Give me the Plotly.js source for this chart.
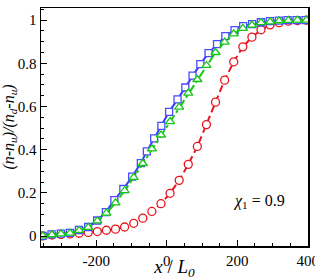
<!DOCTYPE html>
<html>
<head>
<meta charset="utf-8">
<script src="https://cdn.plot.ly/plotly-3.0.1.min.js"></script>
<style>html,body{margin:0;padding:0;background:#fff;}#chart{width:315px;height:280px;}</style>
</head>
<body>
<div id="chart"></div>
<script>
// shared x grid (x / L0) for green and red series
const xGrid = [-352, -326.2, -300.4, -274.6, -248.8, -223, -197.2, -171.4, -145.6, -119.8,
  -94, -68.2, -42.4, -16.6, 9.2, 35, 60.8, 86.6, 112.4, 138.2,
  164, 189.8, 215.6, 241.4, 267.2, 293, 318.8, 344.6, 370.4, 396.2];
// blue squares series
const xBlue = [-352.6, -327.1, -300.7, -275.2, -249.6, -223.3, -197.7, -173.0, -148.9, -123.4,
  -98.4, -73.8, -56.7, -36.0, -15.6, 6.5, 30.4, 52.5, 72.9, 95.0,
  118.3, 142.4, 166.0, 192.1, 216.5, 242.0, 266.7, 292.2, 317.7, 342.4, 368.0, 393.5];
const yBlue = [0.001, 0.008, 0.011, 0.015, 0.028, 0.042, 0.072, 0.111, 0.166, 0.218,
  0.275, 0.338, 0.392, 0.452, 0.510, 0.575, 0.633, 0.688, 0.743, 0.796,
  0.847, 0.889, 0.926, 0.954, 0.972, 0.981, 0.990, 0.995, 0.998, 1.0, 1.0, 1.0];
// green triangles series
const yGreen = [0.001, 0.006, 0.010, 0.014, 0.026, 0.040, 0.070, 0.106, 0.154, 0.210,
  0.272, 0.336, 0.404, 0.468, 0.530, 0.597, 0.662, 0.725, 0.790, 0.850,
  0.898, 0.936, 0.962, 0.977, 0.988, 0.992, 0.997, 0.999, 1.0, 1.0];
// red circles series
const yRed = [0.001, 0.005, 0.008, 0.010, 0.013, 0.017, 0.021, 0.027, 0.032, 0.042,
  0.059, 0.083, 0.114, 0.150, 0.198, 0.258, 0.332, 0.415, 0.516, 0.620,
  0.722, 0.807, 0.876, 0.921, 0.955, 0.978, 0.988, 0.995, 0.998, 1.0];

const serif = "Liberation Serif";

const traces = [
  {x: xGrid, y: yRed, type: 'scatter', mode: 'lines+markers',
   line: {color: '#e8141c', width: 2, dash: '7px,4px'},
   marker: {symbol: 'circle', size: 8, color: '#ffffff', line: {width: 1.3, color: '#e8141c'}}},
  {x: xBlue, y: yBlue, type: 'scatter', mode: 'lines+markers',
   line: {color: '#3a3aff', width: 2},
   marker: {symbol: 'square', size: 7, color: '#ffffff', line: {width: 1.3, color: '#4a4aff'}}},
  {x: xGrid, y: yGreen, type: 'scatter', mode: 'lines+markers',
   line: {color: '#14c814', width: 2, dash: 'dashdot'},
   marker: {symbol: 'triangle-up', size: 8, color: '#ffffff', line: {width: 1.3, color: '#14c814'}}}
];

const layout = {
  width: 315, height: 280,
  margin: {l: 41, r: 7, t: 8, b: 34},
  paper_bgcolor: '#fff', plot_bgcolor: '#fff',
  showlegend: false,
  font: {family: serif, size: 15, color: '#000'},
  xaxis: {
    range: [-357, 400.5], showgrid: false, zeroline: false,
    showline: true, linecolor: '#000', linewidth: 1.5, mirror: true,
    ticks: 'inside', ticklen: 6, tickwidth: 1, tickcolor: '#000',
    tickmode: 'array', tickvals: [-200, 0, 200, 400], ticktext: ['-200', '0', '200', '400'],
    ticklabeloverflow: 'allow',
    minor: {dtick: 50, tick0: 0, ticks: 'inside', ticklen: 3, tickcolor: '#000', showgrid: false},
    tickfont: {family: serif, size: 15, color: '#000'},
    title: {text: '<i>x</i> / <i>L</i><sub><i>0</i></sub>', font: {family: serif, size: 19, color: '#000'}, standoff: 2}
  },
  yaxis: {
    range: [-0.046, 1.056], showgrid: false, zeroline: false,
    showline: true, linecolor: '#000', linewidth: 1.5, mirror: true,
    ticks: 'inside', ticklen: 6, tickwidth: 1, tickcolor: '#000',
    tickmode: 'array', tickvals: [0, 0.2, 0.4, 0.6, 0.8, 1], ticktext: ['0', '0.2', '0.4', '0.6', '0.8', '1'],
    minor: {dtick: 0.05, tick0: 0, ticks: 'inside', ticklen: 3, tickcolor: '#000', showgrid: false},
    tickfont: {family: serif, size: 15, color: '#000'},
    title: {text: '<i>(n-n<sub>u</sub>)/(n<sub>d</sub>-n<sub>u</sub>)</i>', font: {family: serif, size: 16, color: '#000'}, standoff: 0}
  },
  annotations: [{
    xref: 'x', yref: 'y', x: 262, y: 0.16, showarrow: false,
    text: '<i>χ</i><sub>1</sub> = 0.9', font: {family: serif, size: 16, color: '#000'}
  }]
};

Plotly.newPlot('chart', traces, layout, {displayModeBar: false, staticPlot: true});
</script>
</body>
</html>
